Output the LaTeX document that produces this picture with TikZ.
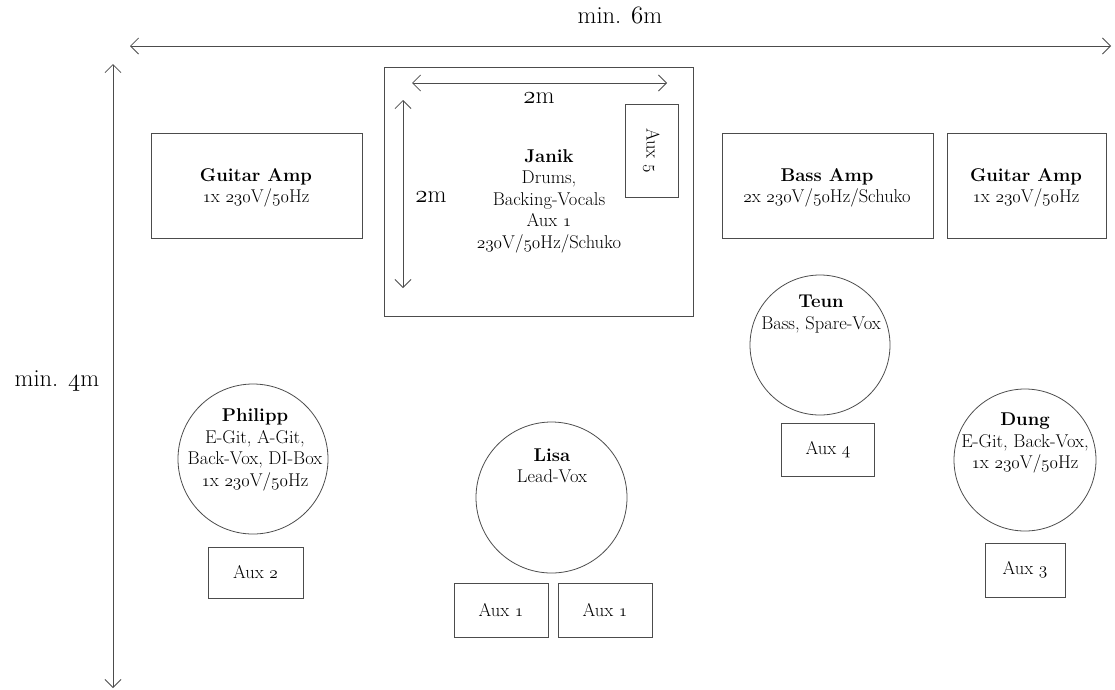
\documentclass[tikz,border=0pt]{standalone}
\usetikzlibrary{arrows.meta}
\begin{document}
\newcommand{\osn}[1]{\legacyoldstylenums{#1}}
\begin{tikzpicture}[x=1pt,y=-1pt,
  ln/.style={draw=black!70, line width=0.8pt},
  dim/.style={ln, {Straight Barb[length=8pt,width=16pt,line width=0.8pt]}-{Straight Barb[length=8pt,width=16pt,line width=0.8pt]}},
  box/.style={ln, rectangle, inner sep=0pt},
  ring/.style={ln, circle, inner sep=0pt},
  txt/.style={align=center, inner sep=0pt, font=\fontsize{18.5}{21.5}\selectfont, text=black},
  dimtxt/.style={txt, font=\fontsize{24.5}{28}\selectfont}]
\useasboundingbox (0,0) rectangle (1115,689);
% overall dimensions
\coordinate (w1) at (130,46); \coordinate (w2) at (1111,46);
\draw[dim] (w1) -- (w2);
\node[dimtxt] (w6) at (620,15) {min. \osn{6}m};
\coordinate (h1) at (113,64); \coordinate (h2) at (113,688);
\draw[dim] (h1) -- (h2);
\node[dimtxt] (h4) at (57,381) {min. \osn{4}m};
% drum riser
\node[box, minimum width=309pt, minimum height=249pt] (riser) at (538.5,191.5) {};
\coordinate (r1) at (412,83); \coordinate (r2) at (667,83);
\draw[dim] (r1) -- (r2);
\node[dimtxt] (r2m) at (539,98) {\osn{2}m};
\coordinate (v1) at (403,100); \coordinate (v2) at (403,288);
\draw[dim] (v1) -- (v2);
\node[dimtxt] (v2m) at (431,197) {\osn{2}m};
\node[box, minimum width=53pt, minimum height=93pt] (aux5) at (651.5,150.5) {};
\node[txt, rotate=-90] (aux5t) at (aux5.center) {Aux \osn{5}};
\node[txt] (janik) at (549,201) {\textbf{Janik}\\Drums,\\Backing-Vocals\\Aux \osn{1}\\\osn{230}V/\osn{50}Hz/Schuko};
% amps
\node[box, minimum width=211pt, minimum height=105pt] (gamp1) at (256.5,185.5) {};
\node[txt] (gamp1t) at (256,188) {\textbf{Guitar Amp}\\\osn{1}x \osn{230}V/\osn{50}Hz};
\node[box, minimum width=211pt, minimum height=105pt] (bamp) at (827.5,185.5) {};
\node[txt] (bampt) at (827,188) {\textbf{Bass Amp}\\\osn{2}x \osn{230}V/\osn{50}Hz/Schuko};
\node[box, minimum width=159pt, minimum height=105pt] (gamp2) at (1026.5,185.5) {};
\node[txt] (gamp2t) at (1026,188) {\textbf{Guitar Amp}\\\osn{1}x \osn{230}V/\osn{50}Hz};
% musicians
\node[ring, minimum size=140pt] (teun) at (820,345) {};
\node[txt] (teunt) at (821,314) {\textbf{Teun}\\Bass, Spare-Vox};
\node[box, minimum width=93pt, minimum height=53pt] (aux4) at (828,450) {};
\node[txt] (aux4t) at (aux4.center) {Aux \osn{4}};
\node[ring, minimum size=150pt] (philipp) at (253,459) {};
\node[txt] (philippt) at (255,450) {\textbf{Philipp}\\E-Git, A-Git,\\Back-Vox, DI-Box\\\osn{1}x \osn{230}V/\osn{50}Hz};
\node[box, minimum width=95pt, minimum height=51pt] (aux2) at (255.5,572.5) {};
\node[txt] (aux2t) at (aux2.center) {Aux \osn{2}};
\node[ring, minimum size=151pt] (lisa) at (551.5,497.5) {};
\node[txt] (lisat) at (552,466) {\textbf{Lisa}\\Lead-Vox};
\node[box, minimum width=94pt, minimum height=54pt] (aux1a) at (501,610) {};
\node[txt] (aux1at) at (aux1a.center) {Aux \osn{1}};
\node[box, minimum width=94pt, minimum height=54pt] (aux1b) at (605,610) {};
\node[txt] (aux1bt) at (aux1b.center) {Aux \osn{1}};
\node[ring, minimum size=142pt] (dung) at (1025,460) {};
\node[txt] (dungt) at (1025,443) {\textbf{Dung}\\E-Git, Back-Vox,\\\osn{1}x \osn{230}V/\osn{50}Hz};
\node[box, minimum width=80pt, minimum height=54pt] (aux3) at (1025,570) {};
\node[txt] (aux3t) at (aux3.center) {Aux \osn{3}};
\end{tikzpicture}
\end{document}
